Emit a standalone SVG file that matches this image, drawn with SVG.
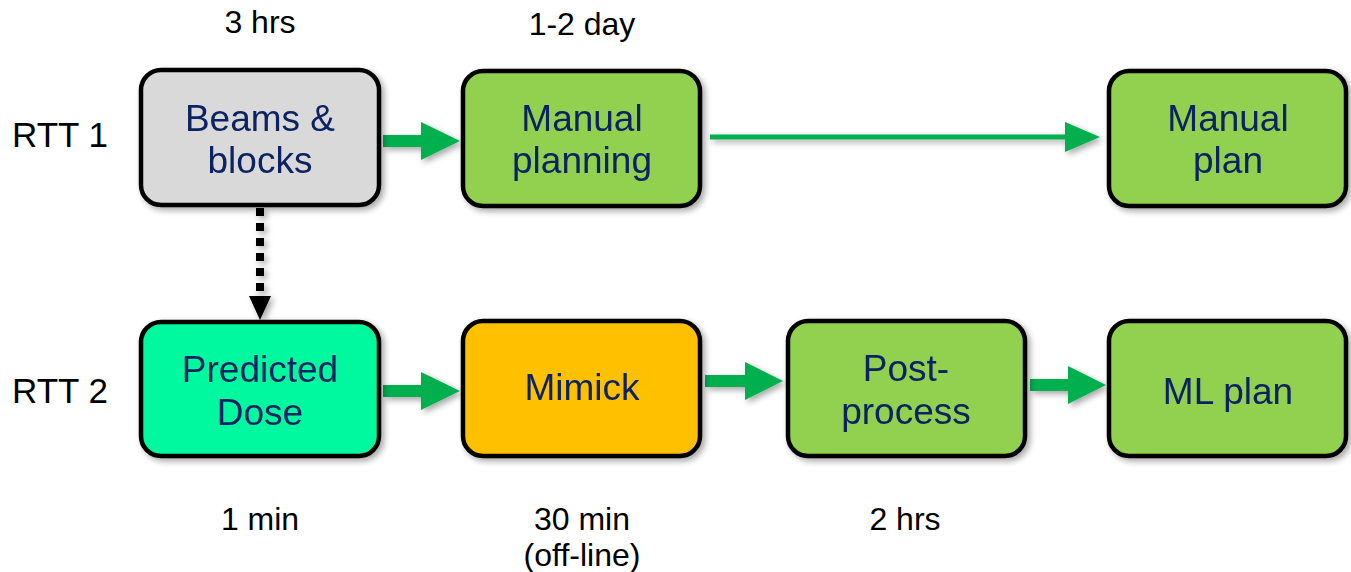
<svg xmlns="http://www.w3.org/2000/svg" width="1351" height="572" viewBox="0 0 1351 572">
<style>
.box{stroke:#000;stroke-width:4.5}
.nt{font-family:"Liberation Sans",Arial,sans-serif;font-size:37px;fill:#0A2462;text-anchor:middle}
.lb{font-family:"Liberation Sans",Arial,sans-serif;font-size:32px;fill:#000;text-anchor:middle}
.rt{font-family:"Liberation Sans",Arial,sans-serif;font-size:35px;fill:#000}
.ga{fill:#00B050}
</style>
<defs>
<filter id="sh" x="-10%" y="-10%" width="125%" height="125%">
<feGaussianBlur in="SourceAlpha" stdDeviation="3"/>
<feOffset dx="3" dy="3" result="b"/>
<feComponentTransfer><feFuncA type="linear" slope="0.35"/></feComponentTransfer>
<feMerge><feMergeNode/><feMergeNode in="SourceGraphic"/></feMerge>
</filter>
</defs>
<rect width="1351" height="572" fill="#fff"/>
<g id="labels">
<text class="lb" x="260" y="33">3 hrs</text>
<text class="lb" x="582" y="35">1-2 day</text>
<text class="rt" x="12" y="147">RTT 1</text>
<text class="rt" x="12" y="403">RTT 2</text>
<text class="lb" x="260" y="530">1 min</text>
<text class="lb" x="582" y="530">30 min</text>
<text class="lb" x="582" y="566">(off-line)</text>
<text class="lb" x="905" y="530">2 hrs</text>
</g>
<g id="connectors" filter="url(#sh)">
<path class="ga" d="M383 135H421V122L460 141L421 160V147H383Z"/>
<path class="ga" d="M710 134.5H1065V122L1100 137L1065 152V139.5H710Z"/>
<path class="ga" d="M383 385H421V372L460 391L421 410V397H383Z"/>
<path class="ga" d="M705 375H745V362L783 381L745 400V387H705Z"/>
<path class="ga" d="M1030 379H1068V366L1106 385L1068 404V391H1030Z"/>
<line x1="260" y1="208" x2="260" y2="296" stroke="#000" stroke-width="8" stroke-dasharray="8,7"/>
<path d="M249 296H271L260 320Z" fill="#000"/>
</g>
<g id="n-beams" filter="url(#sh)"><rect class="box" x="141" y="70" width="238" height="135" rx="20" fill="#D9D9D9"/>
<text class="nt" x="260" y="131">Beams &amp;</text><text class="nt" x="260" y="173">blocks</text></g>
<g id="n-manual-planning" filter="url(#sh)"><rect class="box" x="463" y="71" width="237" height="135" rx="20" fill="#92D050"/>
<text class="nt" x="582" y="131">Manual</text><text class="nt" x="582" y="173">planning</text></g>
<g id="n-manual-plan" filter="url(#sh)"><rect class="box" x="1109" y="71" width="237" height="135" rx="20" fill="#92D050"/>
<text class="nt" x="1228" y="131">Manual</text><text class="nt" x="1228" y="173">plan</text></g>
<g id="n-predicted" filter="url(#sh)"><rect class="box" x="141" y="322" width="238" height="134" rx="20" fill="#00F99E"/>
<text class="nt" x="260" y="382">Predicted</text><text class="nt" x="260" y="425">Dose</text></g>
<g id="n-mimick" filter="url(#sh)"><rect class="box" x="463" y="321" width="237" height="135" rx="20" fill="#FFC000"/>
<text class="nt" x="582" y="400">Mimick</text></g>
<g id="n-post" filter="url(#sh)"><rect class="box" x="788" y="321" width="237" height="135" rx="20" fill="#92D050"/>
<text class="nt" x="906" y="381">Post-</text><text class="nt" x="906" y="424">process</text></g>
<g id="n-ml" filter="url(#sh)"><rect class="box" x="1109" y="321" width="237" height="135" rx="20" fill="#92D050"/>
<text class="nt" x="1228" y="404">ML plan</text></g>
</svg>
